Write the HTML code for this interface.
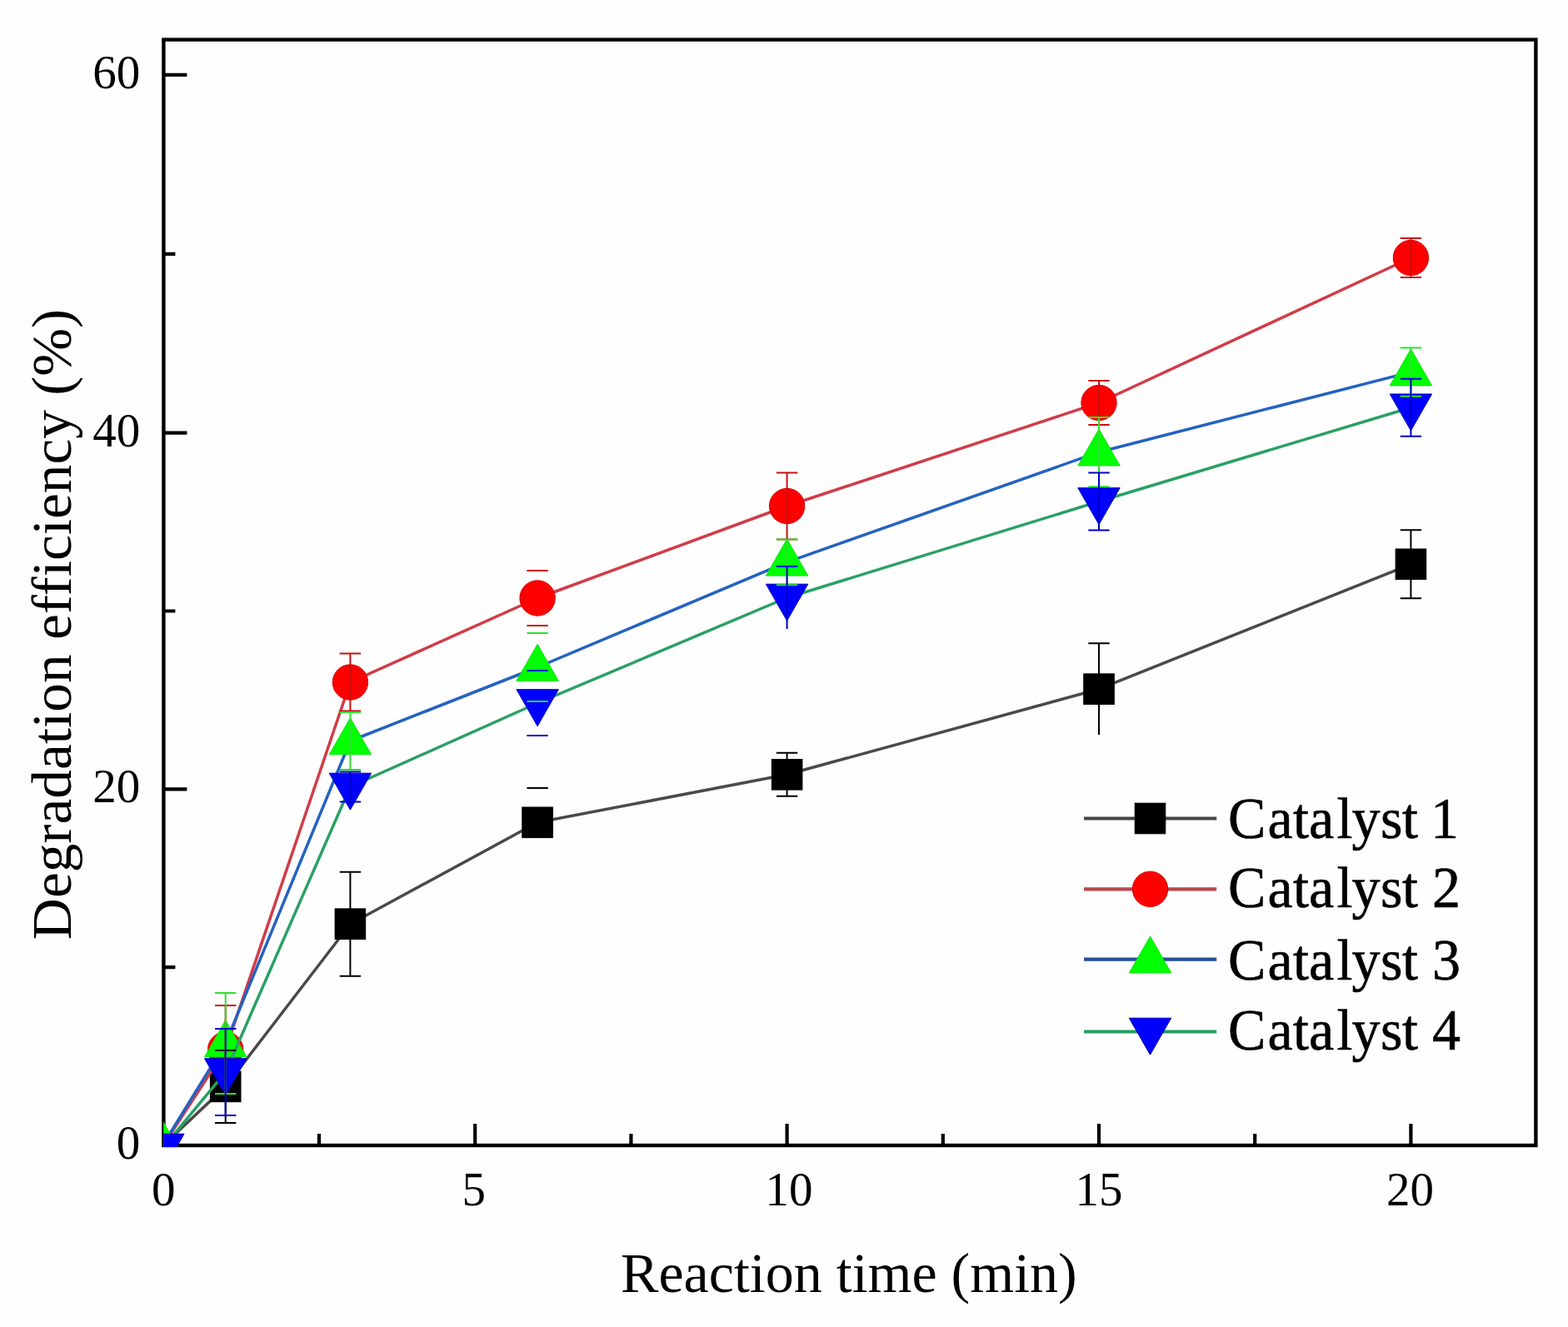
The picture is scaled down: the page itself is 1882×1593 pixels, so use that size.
<!DOCTYPE html>
<html><head><meta charset="utf-8"><title>Degradation efficiency chart</title>
<style>html,body{margin:0;padding:0;background:#fefefe;overflow:hidden;}svg{display:block;}</style>
</head><body>
<svg width="1882" height="1593" viewBox="0 0 1882 1593"><rect x="0" y="0" width="1882" height="1593" fill="#fefefe"/>
<defs><clipPath id="pc"><rect x="196.2" y="47.6" width="1647.2" height="1329.4"/></clipPath></defs>
<rect x="196.4" y="47.6" width="1647.0" height="1327.4" fill="none" stroke="#000" stroke-width="4.4"/>
<path d="M570.2,1375.0V1349.0M944.6,1375.0V1349.0M1319.0,1375.0V1349.0M1693.4,1375.0V1349.0M383.0,1375.0V1361.0M757.4,1375.0V1361.0M1131.8,1375.0V1361.0M1506.2,1375.0V1361.0M196.4,947.4H224.4M196.4,519.7H224.4M196.4,89.8H224.4M196.4,1161.2H210.4M196.4,733.5H210.4M196.4,304.8H210.4" stroke="#000" stroke-width="4.2" fill="none"/>
<g clip-path="url(#pc)">
<polyline points="195.8,1375.0 270.7,1304.4 420.4,1109.2 645.1,987.3 944.6,929.8 1319.0,827.2 1693.4,677.3" fill="none" stroke="#4a4a4a" stroke-width="3.5" stroke-linejoin="round"/>
<rect x="252.4" y="1286.1" width="36.6" height="36.6" fill="#000000" stroke="#000000" stroke-width="1"/>
<rect x="402.1" y="1090.9" width="36.6" height="36.6" fill="#000000" stroke="#000000" stroke-width="1"/>
<rect x="626.8" y="969.0" width="36.6" height="36.6" fill="#000000" stroke="#000000" stroke-width="1"/>
<rect x="926.3" y="911.5" width="36.6" height="36.6" fill="#000000" stroke="#000000" stroke-width="1"/>
<rect x="1300.7" y="808.9" width="36.6" height="36.6" fill="#000000" stroke="#000000" stroke-width="1"/>
<rect x="1675.1" y="659.0" width="36.6" height="36.6" fill="#000000" stroke="#000000" stroke-width="1"/>
<polyline points="195.8,1375.0 270.7,1259.9 420.4,819.0 645.1,718.0 944.6,607.5 1319.0,483.5 1693.4,309.5" fill="none" stroke="#d03c48" stroke-width="3.5" stroke-linejoin="round"/>
<circle cx="270.7" cy="1259.9" r="21.2" fill="#ff0000" stroke="#d80000" stroke-width="1"/>
<circle cx="420.4" cy="819.0" r="21.2" fill="#ff0000" stroke="#d80000" stroke-width="1"/>
<circle cx="645.1" cy="718.0" r="21.2" fill="#ff0000" stroke="#d80000" stroke-width="1"/>
<circle cx="944.6" cy="607.5" r="21.2" fill="#ff0000" stroke="#d80000" stroke-width="1"/>
<circle cx="1319.0" cy="483.5" r="21.2" fill="#ff0000" stroke="#d80000" stroke-width="1"/>
<circle cx="1693.4" cy="309.5" r="21.2" fill="#ff0000" stroke="#d80000" stroke-width="1"/>
<polyline points="195.8,1374.0 270.7,1252.4 420.4,889.5 645.1,801.0 944.6,674.8 1319.0,542.7 1693.4,446.6" fill="none" stroke="#2462c0" stroke-width="3.5" stroke-linejoin="round"/>
<polygon points="195.8,1346.3 221.0,1390.3 170.6,1390.3" fill="#00ff00" stroke="#10e010" stroke-width="1"/>
<polygon points="270.7,1224.7 295.9,1268.7 245.5,1268.7" fill="#00ff00" stroke="#10e010" stroke-width="1"/>
<polygon points="420.4,861.8 445.6,905.8 395.2,905.8" fill="#00ff00" stroke="#10e010" stroke-width="1"/>
<polygon points="645.1,773.3 670.3,817.3 619.9,817.3" fill="#00ff00" stroke="#10e010" stroke-width="1"/>
<polygon points="944.6,647.1 969.8,691.1 919.4,691.1" fill="#00ff00" stroke="#10e010" stroke-width="1"/>
<polygon points="1319.0,515.0 1344.2,559.0 1293.8,559.0" fill="#00ff00" stroke="#10e010" stroke-width="1"/>
<polygon points="1693.4,418.9 1718.6,462.9 1668.2,462.9" fill="#00ff00" stroke="#10e010" stroke-width="1"/>
<polyline points="195.8,1377.5 270.7,1287.0 420.4,944.5 645.1,844.0 944.6,717.5 1319.0,602.0 1693.4,489.3" fill="none" stroke="#2aa064" stroke-width="3.5" stroke-linejoin="round"/>
<polygon points="195.8,1405.2 221.0,1361.2 170.6,1361.2" fill="#0000ff" stroke="#0000b0" stroke-width="1"/>
<polygon points="270.7,1314.7 295.9,1270.7 245.5,1270.7" fill="#0000ff" stroke="#0000b0" stroke-width="1"/>
<polygon points="420.4,972.2 445.6,928.2 395.2,928.2" fill="#0000ff" stroke="#0000b0" stroke-width="1"/>
<polygon points="645.1,871.7 670.3,827.7 619.9,827.7" fill="#0000ff" stroke="#0000b0" stroke-width="1"/>
<polygon points="944.6,745.2 969.8,701.2 919.4,701.2" fill="#0000ff" stroke="#0000b0" stroke-width="1"/>
<polygon points="1319.0,629.7 1344.2,585.7 1293.8,585.7" fill="#0000ff" stroke="#0000b0" stroke-width="1"/>
<polygon points="1693.4,517.0 1718.6,473.0 1668.2,473.0" fill="#0000ff" stroke="#0000b0" stroke-width="1"/>
<path d="M270.7,1260.9V1347.9M258.0,1260.9H283.4M258.0,1347.9H283.4M420.4,1046.7V1171.7M407.7,1046.7H433.1M407.7,1171.7H433.1M632.4,946.1H657.8M944.6,903.8V955.8M931.9,903.8H957.3M931.9,955.8H957.3M1319.0,772.3V882.1M1306.3,772.3H1331.7M1693.4,636.3V718.3M1680.7,636.3H1706.1M1680.7,718.3H1706.1" stroke="#000000" stroke-width="2" fill="none"/>
<path d="M270.7,1206.9V1312.9M258.0,1206.9H283.4M258.0,1312.9H283.4M420.4,784.5V853.5M407.7,784.5H433.1M407.7,853.5H433.1M632.4,685.0H657.8M632.4,751.0H657.8M944.6,567.6V647.4M931.9,567.6H957.3M931.9,647.4H957.3M1319.0,457.0V510.0M1306.3,457.0H1331.7M1306.3,510.0H1331.7M1693.4,286.0V333.0M1680.7,286.0H1706.1M1680.7,333.0H1706.1" stroke="#c81010" stroke-width="2" fill="none"/>
<path d="M270.7,1191.9V1312.9M258.0,1191.9H283.4M258.0,1312.9H283.4M420.4,855.0V924.0M407.7,855.0H433.1M407.7,924.0H433.1M632.4,760.0H657.8M632.4,842.0H657.8M944.6,647.4V702.2M931.9,647.4H957.3M931.9,702.2H957.3M1319.0,501.1V584.3M1306.3,501.1H1331.7M1306.3,584.3H1331.7M1693.4,417.4V475.8M1680.7,417.4H1706.1M1680.7,475.8H1706.1" stroke="#2ee02e" stroke-width="2" fill="none"/>
<path d="M270.7,1235.1V1338.9M258.0,1235.1H283.4M258.0,1338.9H283.4M420.4,926.5V962.5M407.7,926.5H433.1M407.7,962.5H433.1M632.4,805.0H657.8M632.4,883.0H657.8M944.6,680.0V755.0M931.9,680.0H957.3M1319.0,567.4V636.6M1306.3,567.4H1331.7M1306.3,636.6H1331.7M1693.4,454.8V523.8M1680.7,454.8H1706.1M1680.7,523.8H1706.1" stroke="#0000c8" stroke-width="2" fill="none"/>
</g>
<g font-family="Liberation Serif, serif" font-size="57" fill="#000">
<text x="168.3" y="1391.0" text-anchor="end">0</text>
<text x="168.3" y="963.4" text-anchor="end">20</text>
<text x="168.3" y="535.7" text-anchor="end">40</text>
<text x="168.3" y="105.8" text-anchor="end">60</text>
<text x="196.3" y="1447" text-anchor="middle">0</text>
<text x="568.7" y="1447" text-anchor="middle">5</text>
<text x="947.1" y="1447" text-anchor="middle">10</text>
<text x="1319.0" y="1447" text-anchor="middle">15</text>
<text x="1692.4" y="1447" text-anchor="middle">20</text>
</g>
<text x="1018.9" y="1551" font-family="Liberation Serif, serif" font-size="68" text-anchor="middle" fill="#000">Reaction time (min)</text>
<text transform="translate(85.3,749.5) rotate(-90) scale(1.02,1)" x="0" y="0" font-family="Liberation Serif, serif" font-size="68" text-anchor="middle" fill="#000">Degradation efficiency (%)</text>
<path d="M1301,982.5H1460.2" stroke="#464646" stroke-width="4.2"/>
<rect x="1362.2" y="964.2" width="36.6" height="36.6" fill="#000000" stroke="#000000" stroke-width="1"/>
<text transform="translate(0,1005.8) scale(1,1.035)" x="1474.0 1521.4 1552.0 1570.9 1604.6 1622.5 1657.0 1683.0 1701.9 1716.9" y="0" font-family="Liberation Serif, serif" font-size="68" fill="#000" stroke="#000" stroke-width="0.6">Catalyst 1</text>
<path d="M1301,1067.3H1460.2" stroke="#b94650" stroke-width="4.2"/>
<circle cx="1380.5" cy="1067.3" r="21.2" fill="#ff0000" stroke="#d80000" stroke-width="1"/>
<text transform="translate(0,1089.2) scale(1,1.035)" x="1474.0 1521.4 1552.0 1570.9 1604.6 1622.5 1657.0 1683.0 1701.9 1718.9" y="0" font-family="Liberation Serif, serif" font-size="68" fill="#000" stroke="#000" stroke-width="0.6">Catalyst 2</text>
<path d="M1301,1151.6H1460.2" stroke="#245096" stroke-width="4.2"/>
<polygon points="1380.5,1123.9 1405.7,1167.9 1355.3,1167.9" fill="#00ff00" stroke="#10e010" stroke-width="1"/>
<text transform="translate(0,1175.9) scale(1,1.035)" x="1474.0 1521.4 1552.0 1570.9 1604.6 1622.5 1657.0 1683.0 1701.9 1718.9" y="0" font-family="Liberation Serif, serif" font-size="68" fill="#000" stroke="#000" stroke-width="0.6">Catalyst 3</text>
<path d="M1301,1238.5H1460.2" stroke="#23a05f" stroke-width="4.2"/>
<polygon points="1380.5,1266.2 1405.7,1222.2 1355.3,1222.2" fill="#0000ff" stroke="#0000b0" stroke-width="1"/>
<text transform="translate(0,1260.0) scale(1,1.035)" x="1474.0 1521.4 1552.0 1570.9 1604.6 1622.5 1657.0 1683.0 1701.9 1718.9" y="0" font-family="Liberation Serif, serif" font-size="68" fill="#000" stroke="#000" stroke-width="0.6">Catalyst 4</text></svg>
</body></html>
